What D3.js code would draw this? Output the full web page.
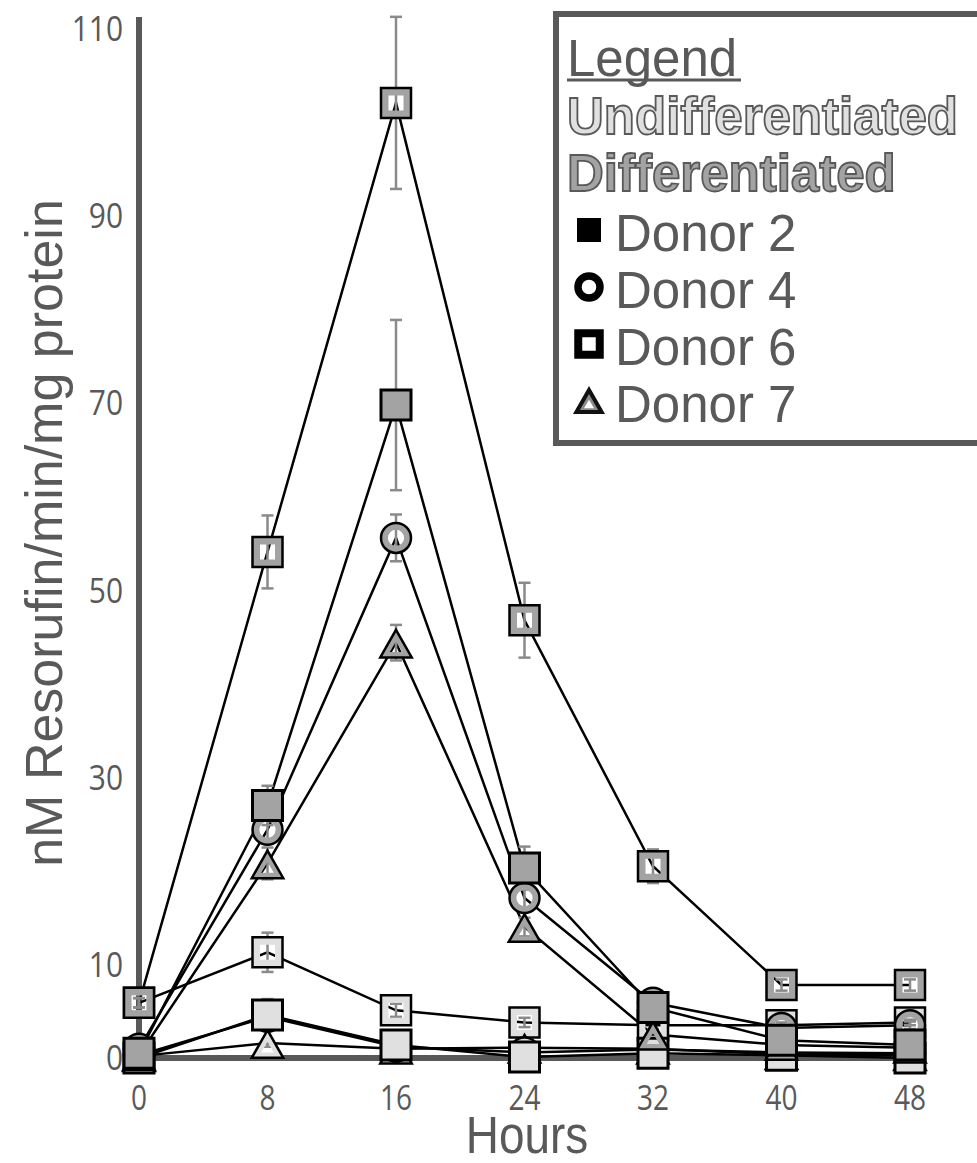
<!DOCTYPE html>
<html>
<head>
<meta charset="utf-8">
<script src="https://cdn.jsdelivr.net/npm/d3@7"></script>
<style>
  body { margin: 0; background: #fff; }
  svg { display: block; }
</style>
</head>
<body>
<div id="chart"></div>
<script>
// time points (hours) and y tick labels
var hours = [0, 8, 16, 24, 32, 40, 48];
var yTicks = [0, 10, 30, 50, 70, 90, 110];

// undifferentiated
var d2U = [0.0, 4.6, 1.4, 0.1, 0.5, 0.3, 0.0];
var d4U = [0.3, 4.4, 1.2, 0.6, 0.9, 0.6, 0.5];
var d6U = [5.9, 11.3, 5.1, 3.8, 3.5, 3.5, 3.8];
var d7U = [0.2, 1.6, 1.0, 1.1, 1.0, 0.4, 0.3];
var d2UErr = [0.2, 1.7, 0.3, 0.2, 0.2, 0.1, 0.1];
var d4UErr = [0.1, 0.5, 0.3, 0.2, 0.2, 0.1, 0.1];
var d6UErr = [0.5, 2.1, 0.7, 0.5, 0.4, 0.3, 0.3];
var d7UErr = [0.1, 0.4, 0.2, 0.2, 0.2, 0.1, 0.1];

// differentiated
var d2D = [0.5, 27.0, 69.8, 20.3, 5.4, 1.9, 1.4];
var d4D = [1.0, 24.4, 55.6, 17.1, 5.9, 3.2, 3.5];
var d6D = [5.9, 54.1, 102.1, 46.8, 20.5, 7.8, 7.8];
var d7D = [0.3, 20.8, 44.4, 14.0, 2.5, 1.4, 1.1];
var d2DErr = [0.2, 2.1, 9.1, 2.3, 0.6, 0.3, 0.3];
var d4DErr = [0.2, 1.0, 2.5, 1.2, 0.5, 0.3, 0.4];
var d6DErr = [0.5, 3.9, 9.2, 4.0, 1.8, 0.6, 0.6];
var d7DErr = [0.1, 1.7, 1.9, 1.0, 0.4, 0.2, 0.2];

var lightFill = "#e0e0e0", darkFill = "#a3a3a3", textCol = "#595959";

// draw order: undifferentiated first, differentiated on top
var series = [
  {vals: d6U, err: d6UErr, shape: "hollow", fill: lightFill},
  {vals: d7U, err: d7UErr, shape: "triangle", fill: lightFill},
  {vals: d4U, err: d4UErr, shape: "circle", fill: lightFill},
  {vals: d2U, err: d2UErr, shape: "square", fill: lightFill},
  {vals: d6D, err: d6DErr, shape: "hollow", fill: darkFill},
  {vals: d7D, err: d7DErr, shape: "triangle", fill: darkFill},
  {vals: d4D, err: d4DErr, shape: "circle", fill: darkFill},
  {vals: d2D, err: d2DErr, shape: "square", fill: darkFill}
];

var W = 977, H = 1163;
var svg = d3.select("#chart").append("svg").attr("width", W).attr("height", H);

var x = d3.scaleLinear().domain([0, 48]).range([139, 910]);
var y = d3.scaleLinear().domain([0, 110]).range([1058, 29]);

// axes lines
svg.append("line").attr("x1", 139).attr("x2", 139).attr("y1", 17).attr("y2", 1061)
  .attr("stroke", textCol).attr("stroke-width", 6);
svg.append("line").attr("x1", 136).attr("x2", 925).attr("y1", y(0)).attr("y2", y(0))
  .attr("stroke", textCol).attr("stroke-width", 6);

// tick labels
svg.append("g").selectAll("text").data(yTicks).enter().append("text")
  .attr("transform", function(d) { return "translate(123," + y(d) + ") scale(0.88,1)"; })
  .attr("dy", "0.36em").attr("text-anchor", "end")
  .attr("font-family", "'Open Sans', sans-serif").attr("font-size", 34)
  .attr("fill", textCol).text(function(d) { return d; });

svg.append("g").selectAll("text").data(hours).enter().append("text")
  .attr("transform", function(d) { return "translate(" + x(d) + ",1110) scale(0.8,1)"; })
  .attr("text-anchor", "middle")
  .attr("font-family", "'Open Sans', sans-serif").attr("font-size", 35)
  .attr("fill", textCol).text(function(d) { return d; });

// axis titles
svg.append("text").attr("transform", "translate(527,1153) scale(0.9,1)")
  .attr("text-anchor", "middle").attr("font-family", "'Liberation Sans', Arial, sans-serif")
  .attr("font-size", 51).attr("fill", textCol).text("Hours");

svg.append("text").attr("transform", "translate(62,533) rotate(-90)")
  .attr("text-anchor", "middle").attr("font-family", "'Liberation Sans', Arial, sans-serif")
  .attr("font-size", 52).attr("fill", textCol).text("nM Resorufin/min/mg protein");

// lines
var line = d3.line().x(function(d, i) { return x(hours[i]); }).y(function(d) { return y(d); });
svg.append("g").selectAll("path").data(series).enter().append("path")
  .attr("d", function(s) { return line(s.vals); })
  .attr("fill", "none").attr("stroke", "#000").attr("stroke-width", 2.5);

// error bars
var eb = svg.append("g").attr("stroke", "#8a8a8a").attr("stroke-width", 2.5);
series.forEach(function(s) {
  s.vals.forEach(function(v, i) {
    var cx = x(hours[i]), top = y(v + s.err[i]), bot = y(v - s.err[i]);
    eb.append("line").attr("x1", cx).attr("x2", cx).attr("y1", top).attr("y2", bot);
    eb.append("line").attr("x1", cx - 6).attr("x2", cx + 6).attr("y1", top).attr("y2", top);
    eb.append("line").attr("x1", cx - 6).attr("x2", cx + 6).attr("y1", bot).attr("y2", bot);
  });
});

// marker shapes
function sqPath(cx, cy, h) {
  return "M" + (cx - h) + "," + (cy - h) + "h" + 2 * h + "v" + 2 * h + "h" + (-2 * h) + "Z";
}
function circPath(cx, cy, r) {
  return "M" + (cx - r) + "," + cy + "a" + r + "," + r + " 0 1,0 " + 2 * r + ",0a" + r + "," + r + " 0 1,0 " + (-2 * r) + ",0Z";
}
function triPath(cx, cy, w, h) {
  return "M" + cx + "," + (cy - h / 2) + "L" + (cx + w / 2) + "," + (cy + h / 2) + "L" + (cx - w / 2) + "," + (cy + h / 2) + "Z";
}

function marker(g, shape, fill, cx, cy, sz, edge) {
  var outer, inner = null;
  if (shape === "square") outer = sqPath(cx, cy, sz / 2);
  if (shape === "hollow") { outer = sqPath(cx, cy, sz / 2); inner = sqPath(cx, cy, sz * 0.25); }
  if (shape === "circle") { outer = circPath(cx, cy, sz / 2); inner = circPath(cx, cy, sz * 0.27); }
  if (shape === "triangle") {
    outer = triPath(cx, cy + 1, sz * 1.05, sz * 0.92);
    inner = triPath(cx, cy + 4, sz * 0.42, sz * 0.36);
  }
  g.append("path").attr("d", inner ? outer + inner : outer)
    .attr("fill", fill).attr("fill-rule", "evenodd").attr("stroke", "none");
  return g.append("path").attr("d", outer).attr("fill", "none")
    .attr("stroke", edge).attr("stroke-width", shape === "square" ? 3 : 2.5);
}

var mk = svg.append("g");
series.forEach(function(s) {
  s.vals.forEach(function(v, i) {
    marker(mk, s.shape, s.fill, x(hours[i]), y(v), 30, "#000");
  });
});

// legend
var lg = svg.append("g");
lg.append("rect").attr("x", 556).attr("y", 14).attr("width", 460).attr("height", 429)
  .attr("fill", "#fff").attr("stroke", textCol).attr("stroke-width", 6);

lg.append("text").attr("x", 567).attr("y", 76)
  .attr("font-family", "'Liberation Sans', Arial, sans-serif").attr("font-size", 51)
  .attr("fill", textCol).text("Legend");
lg.append("line").attr("x1", 567).attr("x2", 741).attr("y1", 80).attr("y2", 80)
  .attr("stroke", textCol).attr("stroke-width", 3);

var groupLabels = [["Undifferentiated", lightFill, 134], ["Differentiated", darkFill, 191]];
groupLabels.forEach(function(t) {
  lg.append("text").attr("x", 567).attr("y", t[2])
    .attr("font-family", "'Liberation Sans', Arial, sans-serif").attr("font-size", 51)
    .attr("font-weight", "bold").attr("fill", t[1])
    .attr("stroke", textCol).attr("stroke-width", 1.8).text(t[0]);
});

var donorNames = ["Donor 2", "Donor 4", "Donor 6", "Donor 7"];
var donorShapes = ["square", "circle", "hollow", "triangle"];
donorNames.forEach(function(n, i) {
  var by = 251 + i * 57;
  lg.append("text").attr("x", 615).attr("y", by)
    .attr("font-family", "'Liberation Sans', Arial, sans-serif").attr("font-size", 51)
    .attr("fill", textCol).text(n);
  var cy = by - 21;
  if (donorShapes[i] === "triangle") {
    marker(lg, "triangle", "#8c8c8c", 589, cy - 1, 24, "#111").attr("stroke-width", 4);
  } else if (donorShapes[i] === "square") {
    marker(lg, "square", "#000", 589, cy, 21, "#000");
  } else {
    marker(lg, donorShapes[i], "#000", 589, cy, 27, "#000");
  }
});
</script>
</body>
</html>
